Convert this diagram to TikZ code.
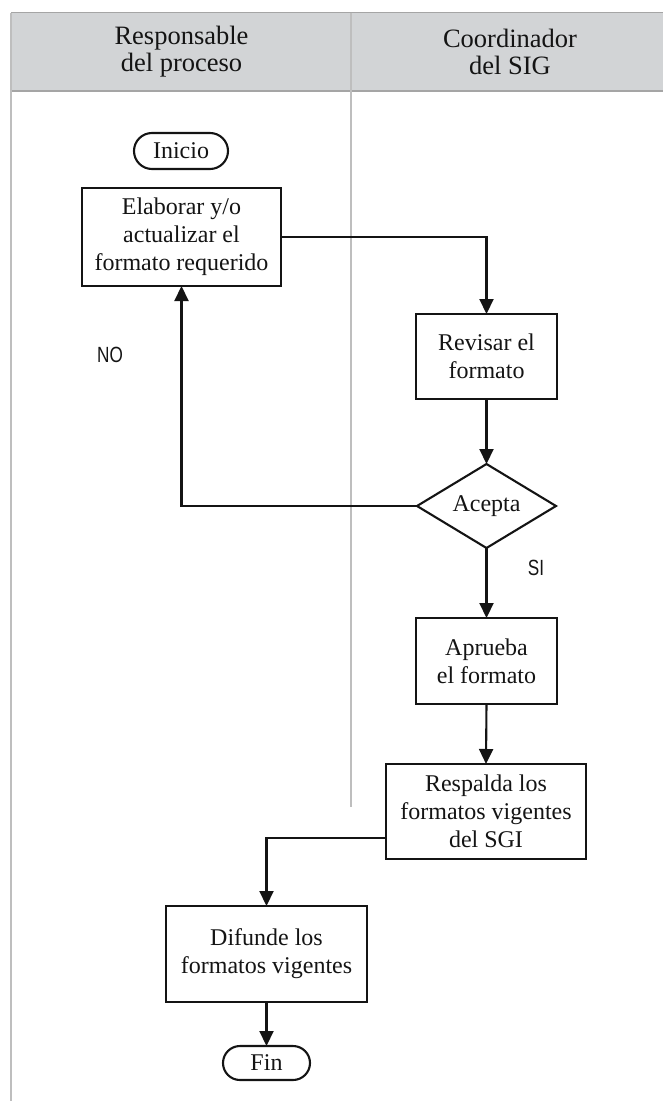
\documentclass[tikz,border=0pt]{standalone}
\usepackage{fontspec}
\usepackage{graphicx}
\setmainfont{Liberation Serif}
\newfontfamily\labelfont{Liberation Sans}
\usetikzlibrary{shapes.geometric,shapes.misc,arrows.meta,calc}
\definecolor{headfill}{RGB}{210,212,214}
\definecolor{laneline}{RGB}{190,190,190}
\definecolor{headline}{RGB}{165,165,165}
\definecolor{ink}{RGB}{20,20,20}
\newcommand{\narrowtag}[1]{\scalebox{0.78}[1]{#1}}
\begin{document}
\begin{tikzpicture}[x=1pt,y=-1pt,
  every node/.style={inner sep=0pt,outer sep=0pt,text=ink},
  proc/.style={draw=ink,line width=2.1pt,rectangle,align=center,
    font=\fontsize{24}{28}\selectfont},
  term/.style={draw=ink,line width=2.1pt,rounded rectangle,
    font=\fontsize{24}{28}\selectfont},
  decide/.style={draw=ink,line width=2.1pt,diamond,aspect=1.65,
    font=\fontsize{24}{28}\selectfont},
  head/.style={align=center,font=\fontsize{26.5}{27}\selectfont},
  flow/.style={draw=ink,line width=2.1pt,-{Triangle[length=15pt,width=14pt]}},
  tag/.style={font=\labelfont\fontsize{22}{22}\selectfont}]
\useasboundingbox (0,0) rectangle (663,1103);

% swimlane header and lane borders
\fill[headfill] (11,12.5) rectangle (663,91);
\draw[headline,line width=1.3pt] (11,12.5) -- (663,12.5);
\draw[headline,line width=1.6pt] (11,91) -- (663,91);
\draw[laneline,line width=1.8pt] (11,12.5) -- (11,1101);
\draw[laneline,line width=1.8pt] (351,12.5) -- (351,807);

\node[head] (h1) at (181.5,52) {Responsable\\del proceso};
\node[head] (h2) at (510,52) {Coordinador\\del SIG};

% flowchart nodes
\node[term,minimum width=94pt,minimum height=36pt] (inicio) at (181,151) {Inicio};
\node[proc,minimum width=199pt,minimum height=98pt] (elab) at (181.5,237)
  {Elaborar y/o\\actualizar el\\formato requerido};
\node[proc,minimum width=141pt,minimum height=85pt] (rev) at (486.5,356.5)
  {Revisar el\\formato};
\node[decide,minimum width=139pt,minimum height=84pt] (acepta) at (486.5,506) {Acepta};
\node[proc,minimum width=141pt,minimum height=86pt] (aprueba) at (486.5,661)
  {Aprueba\\el formato};
\node[proc,minimum width=200pt,minimum height=95pt] (respalda) at (486,811.5)
  {Respalda los\\formatos vigentes\\del SGI};
\node[proc,minimum width=201pt,minimum height=96pt] (difunde) at (266.5,954)
  {Difunde los\\formatos vigentes};
\node[term,minimum width=87pt,minimum height=34pt] (fin) at (266.5,1063) {Fin};

\node[tag] (no) at (110,355) {\narrowtag{NO}};
\node[tag] (si) at (536,568) {\narrowtag{SI}};

% connectors
\draw[flow] (elab.east) -| (rev.north);
\draw[flow] (rev.south) -- (acepta.north);
\draw[flow] (acepta.west) -| (elab.south);
\draw[flow] (acepta.south) -- (aprueba.north);
\draw[flow] (aprueba.south) -- (respalda.north);
\coordinate (rout) at ($(respalda.south west)+(0,-21)$);
\draw[flow] (rout) -| (difunde.north);
\draw[flow] (difunde.south) -- (fin.north);
\end{tikzpicture}
\end{document}
